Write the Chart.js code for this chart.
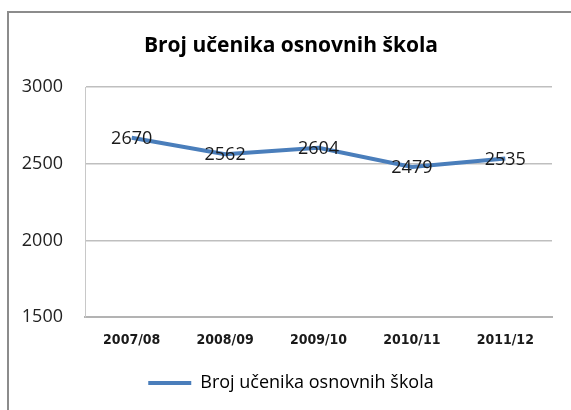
<!DOCTYPE html>
<html><head><meta charset="utf-8">
<script src="https://cdn.jsdelivr.net/npm/chart.js@4"></script>
<style>
html,body{margin:0;padding:0;background:#fff;}
#wrap{position:relative;width:571px;height:410px;overflow:hidden;}
#frame{position:absolute;left:7px;top:11px;width:600px;height:450px;border:2px solid #8c8c8c;box-sizing:border-box;}
canvas{position:absolute;left:0;top:0;}
</style></head>
<body><div id="wrap"><div id="frame"></div><canvas id="c" width="571" height="410"></canvas></div>
<script>
const titleText = "Broj učenika osnovnih škola";
const seriesName = "Broj učenika osnovnih škola";
const categories = ["2007/08","2008/09","2009/10","2010/11","2011/12"];
const values = [2670, 2562, 2604, 2479, 2535];
const yTicks = [1500, 2000, 2500, 3000];

const labelPlugin = {
  id: 'valueLabels',
  afterDatasetsDraw(chart) {
    const ctx = chart.ctx;
    const meta = chart.getDatasetMeta(0);
    ctx.save();
    ctx.font = '18px "Open Sans"';
    ctx.fillStyle = '#1a1a1a';
    ctx.textAlign = 'center';
    ctx.textBaseline = 'middle';
    meta.data.forEach((pt, i) => {
      ctx.fillText(String(values[i]), pt.x, pt.y + 1);
    });
    ctx.restore();
  }
};

new Chart(document.getElementById('c'), {
  type: 'line',
  data: {
    labels: categories,
    datasets: [{
      label: seriesName,
      data: values,
      borderColor: '#4a7ebb',
      backgroundColor: '#4a7ebb',
      borderWidth: 4,
      pointRadius: 0,
      tension: 0,
      fill: false
    }]
  },
  options: {
    responsive: false,
    animation: false,
    devicePixelRatio: 1,
    layout: { padding: { left: 11, right: 0, top: 0, bottom: 8 } },
    plugins: {
      title: {
        display: true,
        text: titleText,
        color: '#000',
        font: { family: 'Open Sans', size: 21, weight: 'bold' },
        padding: { top: 33, bottom: 29 }
      },
      legend: {
        position: 'bottom',
        labels: {
          color: '#333',
          font: { family: 'Open Sans', size: 18 },
          boxWidth: 43,
          boxHeight: 4,
          padding: 6,
          generateLabels(chart) {
            return [{ text: seriesName, fillStyle: '#4a7ebb', strokeStyle: '#4a7ebb', lineWidth: 0, datasetIndex: 0 }];
          }
        }
      },
      tooltip: { enabled: false }
    },
    scales: {
      x: {
        offset: true,
        grid: { display: false, drawTicks: false },
        border: { display: true, color: '#b3b3b3', width: 2 },
        ticks: {
          color: '#1a1a1a',
          font: { family: '"DejaVu Sans Condensed", "DejaVu Sans"', size: 14, weight: 'bold' },
          padding: 15,
          maxRotation: 0
        },
        afterFit(s) { s.height = 51; }
      },
      y: {
        min: 1500, max: 3000,
        afterBuildTicks(s) { s.ticks = yTicks.map(v => ({ value: v })); },
        grid: { color: '#bfbfbf', lineWidth: 1.5, drawTicks: false },
        border: { display: true, color: '#c8c8c8', width: 1 },
        ticks: {
          color: '#222',
          font: { family: 'Open Sans', size: 18 },
          padding: 22,
          callback: (v) => String(v)
        },
        afterFit(s) { s.width = 74; }
      },
      yR: {
        position: 'right',
        display: true,
        grid: { display: false, drawTicks: false },
        border: { display: false },
        ticks: { display: false },
        afterFit(s) { s.width = 19; }
      }
    }
  },
  plugins: [labelPlugin]
});
</script></body></html>
